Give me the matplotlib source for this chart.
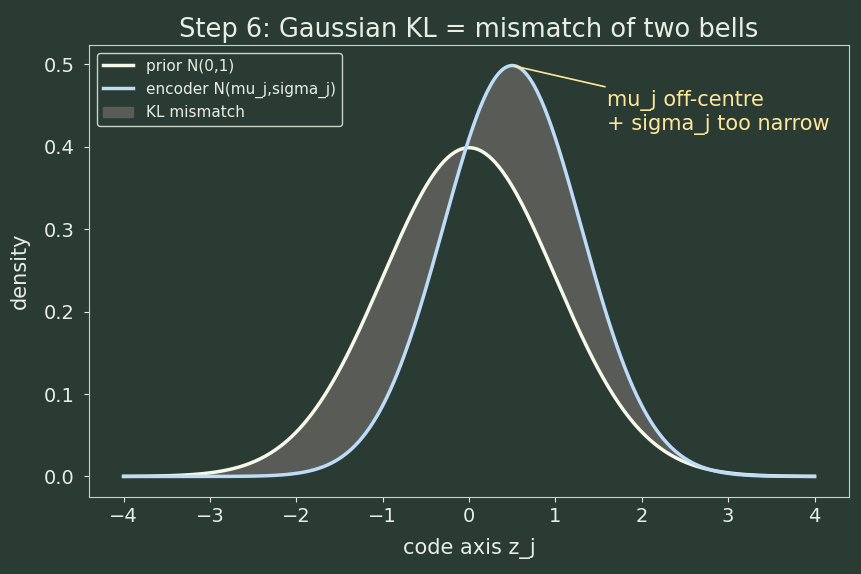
import numpy as np
import matplotlib.pyplot as plt

# parameters
prior_mu, prior_sigma = 0.0, 1.0
enc_mu, enc_sigma = 0.5, 0.8
z_min, z_max = -4.0, 4.0

bg = "#2a3b34"
fg = "#e8eee6"

def gauss(z, mu, sigma):
    return np.exp(-0.5 * ((z - mu) / sigma) ** 2) / (sigma * np.sqrt(2 * np.pi))

z = np.linspace(z_min, z_max, 400)
p = gauss(z, prior_mu, prior_sigma)
q = gauss(z, enc_mu, enc_sigma)

fig, ax = plt.subplots(figsize=(8.62, 5.74), dpi=100)
fig.patch.set_facecolor(bg)
ax.set_facecolor(bg)

ax.plot(z, p, color="#f6f8e8", lw=2.5, label="prior N(0,1)", zorder=3)
ax.plot(z, q, color="#bcdcf8", lw=2.5, label="encoder N(mu_j,sigma_j)", zorder=3)
ax.fill_between(z, p, q, color="#5e5f5a", alpha=0.9, label="KL mismatch", zorder=1)

peak = gauss(enc_mu, enc_mu, enc_sigma)
ax.annotate("mu_j off-centre\n+ sigma_j too narrow", xy=(enc_mu, peak),
            xytext=(1.6, 0.42), color="#ffe79a", fontsize=15,
            arrowprops=dict(arrowstyle="-", color="#ffe79a", lw=1.2))

ax.set_title("Step 6: Gaussian KL = mismatch of two bells", color=fg, fontsize=18.5)
ax.set_xlabel("code axis z_j", color=fg, fontsize=15, labelpad=9)
ax.set_ylabel("density", color=fg, fontsize=15, labelpad=10)
ax.tick_params(colors=fg, labelsize=14)
ax.tick_params(axis="y", pad=7)
for s in ax.spines.values():
    s.set_color("#c8d4c8")

leg = ax.legend(loc="upper left", fontsize=11, facecolor=bg, edgecolor="#c8d4c8",
                labelcolor=fg, framealpha=1.0)

fig.subplots_adjust(left=0.1033, right=0.985, top=0.9216, bottom=0.1341)
fig.savefig("out.png", dpi=100, facecolor=bg)
